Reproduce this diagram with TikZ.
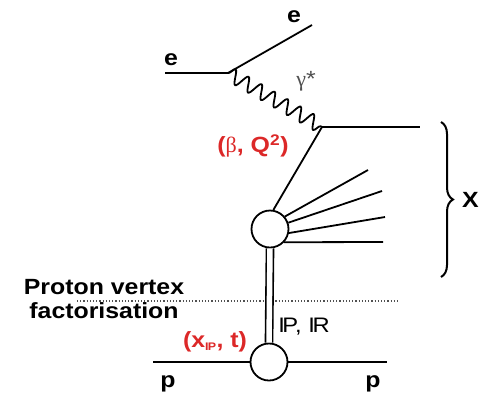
\documentclass[tikz,border=0pt]{standalone}
\usepackage{fontspec}
\setmainfont{Liberation Sans}[FakeStretch=1.13]
\newfontfamily\greekfont{Liberation Serif}
\usetikzlibrary{decorations.pathmorphing,decorations.pathreplacing}
\definecolor{labred}{RGB}{220,40,40}
\definecolor{labgray}{RGB}{80,80,80}
\begin{document}
\begin{tikzpicture}[x=1pt,y=-1pt,
  line/.style={line width=1.8pt},
  blob/.style={circle,draw,line width=1.8pt,fill=white,minimum size=37pt,inner sep=0pt},
  lab/.style={font=\fontsize{22}{24}\selectfont\bfseries,inner sep=0pt},
  redlab/.style={lab,text=labred},
  thinlab/.style={font=\fontsize{21}{23}\selectfont,inner sep=0pt}
]
\useasboundingbox (0,0) rectangle (479,392);
% coordinates
\coordinate (eIn) at (165,73);
\coordinate (v1) at (228,73);
\coordinate (eOut) at (312,25);
\coordinate (v2) at (322,127);
\coordinate (qOut) at (420,127);
\coordinate (f1) at (368,170);
\coordinate (f2) at (382,191);
\coordinate (f3) at (385,217);
\coordinate (f4) at (383,242);
\coordinate (pL) at (153,362);
\coordinate (pR) at (387,362);
\coordinate (dL) at (77,301);
\coordinate (dR) at (400,301);
\coordinate (bT) at (441,122);
\coordinate (bB) at (441,277);
% dotted line
\draw[dotted,line width=1.2pt,labgray] (dL) -- (dR);
% blobs
\node[blob] (C1) at (270,229) {};
\node[blob] (C2) at (269,362) {};
% electron lines
\draw[line] (eIn) -- (v1) -- (eOut);
% photon
\draw[line width=1.8pt,decorate,decoration={snake,segment length=15pt,amplitude=7pt}] (v1) -- (v2);
% quark lines
\draw[line] (v2) -- (qOut);
\draw[line] (v2) -- (C1.80);
% fan
\draw[line] (C1.40) -- (f1);
\draw[line] (C1.19) -- (f2);
\draw[line] (C1.-12) -- (f3);
\draw[line] (C1.-43) -- (f4);
% pomeron double line
\draw[line width=1.6pt,double=white,double distance=5.5pt] (C1.south) -- (C2.north);
% proton line
\draw[line] (pL) -- (C2.west);
\draw[line] (C2.east) -- (pR);
% brace
\draw[line width=2pt,decorate,decoration={brace,amplitude=12pt}] (bT) -- (bB);
% labels
\node[lab] (le1) at (171,60) {e};
\node[lab] (le2) at (294,17) {e};
\node[text=labgray,font=\fontsize{22}{24}\selectfont,inner sep=0pt] (lg) at (306,81) {{\greekfont γ}*};
\node[redlab] (lbq) at (253,146) {(\textmd{\greekfont β}, Q\textsuperscript{2})};
\node[lab,anchor=east] (lX) at (479,200) {X};
\node[lab,align=center] (lpv) at (104,299) {Proton vertex\\factorisation};
\node[thinlab] (lpr) at (304,327) {I\kern-0.12em P, I\kern-0.12em R};
\node[redlab] (lx) at (215,342) {(x\textsubscript{\fontsize{11}{12}\selectfont I\kern-0.08em P}, t)};
\node[lab] (lp1) at (168,384) {p};
\node[lab] (lp2) at (373,384) {p};
\end{tikzpicture}
\end{document}
